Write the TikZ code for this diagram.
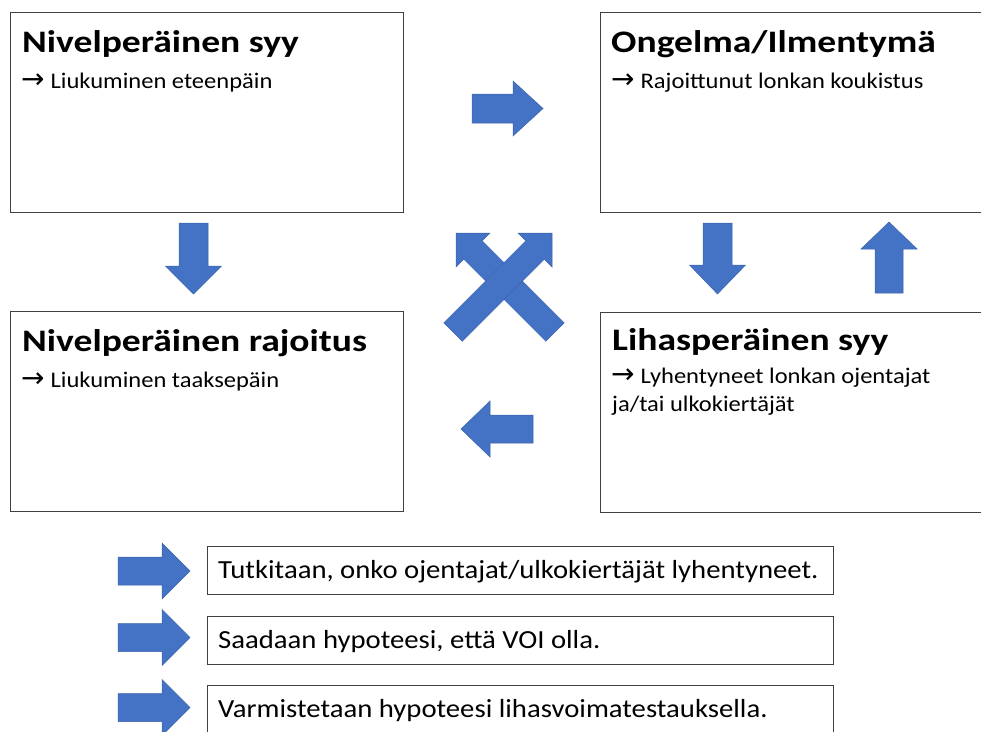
\documentclass[tikz,border=0pt]{standalone}
\usepackage{fontspec}
\setmainfont{Carlito}[FakeStretch=1.1]
\newfontfamily\titlefont{Carlito}[FakeStretch=1.2]
\newfontfamily\arrowfont{DejaVu Sans}
\usetikzlibrary{positioning}
\definecolor{arrowblue}{HTML}{4472C4}
\definecolor{arrowedge}{HTML}{3A62AC}
% block arrow: tail x, tail y, angle, length, shaft, head width, head length
\newcommand{\barrow}[7]{%
  \begin{scope}[shift={(#1,#2)},rotate=#3]
    \filldraw[arrowblue, draw=arrowedge, line width=0.5pt]
      (0,-#5/2) -- ({#4-#7},-#5/2) -- ({#4-#7},-#6/2) -- (#4,0)
      -- ({#4-#7},#6/2) -- ({#4-#7},#5/2) -- (0,#5/2) -- cycle;
  \end{scope}}
\newcommand{\ra}{{\arrowfont\fontsize{28}{28}\selectfont\char"2192}\hspace{6pt}}
\tikzset{
  bigbox/.style={draw=black!75, line width=1pt, minimum width=393pt,
    minimum height=200pt, anchor=north west, inner sep=0pt},
  stepbox/.style={draw=black!75, line width=1pt, minimum width=626pt,
    minimum height=48pt, anchor=north west, inner sep=0pt},
  boxtitle/.style={anchor=base west, inner sep=0pt,
    font=\titlefont\fontsize{31.3}{36}\selectfont\bfseries},
  boxtext/.style={anchor=base west, inner sep=0pt,
    font=\fontsize{22.3}{28}\selectfont},
  steptext/.style={anchor=base west, inner sep=0pt,
    font=\fontsize{26.1}{30}\selectfont}
}
\begin{document}
\begin{tikzpicture}[x=1pt,y=-1pt]
  \useasboundingbox (0,0) rectangle (981,731);
  \clip (0,0) rectangle (981,731);
  % the four boxes
  \node[bigbox] (nivsyy) at (10,12) {};
  \node[bigbox, minimum width=420pt] (ongelma) at (600,12) {};
  \node[bigbox] (nivraj) at (10,311) {};
  \node[bigbox, minimum width=420pt] (lihas) at (600,312) {};
  \node[boxtitle] (nivsyyT) at ([shift={(12pt,-40pt)}]nivsyy.north west) {Nivelperäinen syy};
  \node[boxtext] (nivsyyS) at ([shift={(11pt,-76pt)}]nivsyy.north west) {\ra Liukuminen eteenpäin};
  \node[boxtitle] (ongelmaT) at ([shift={(11pt,-40pt)}]ongelma.north west) {Ongelma/Ilmentymä};
  \node[boxtext] (ongelmaS) at ([shift={(11pt,-76pt)}]ongelma.north west) {\ra Rajoittunut lonkan koukistus};
  \node[boxtitle] (nivrajT) at ([shift={(12pt,-40pt)}]nivraj.north west) {Nivelperäinen rajoitus};
  \node[boxtext] (nivrajS) at ([shift={(11pt,-76pt)}]nivraj.north west) {\ra Liukuminen taaksepäin};
  \node[boxtitle] (lihasT) at ([shift={(12pt,-38pt)}]lihas.north west) {Lihasperäinen syy};
  \node[boxtext] (lihasS) at ([shift={(11pt,-71pt)}]lihas.north west) {\ra Lyhentyneet lonkan ojentajat};
  \node[boxtext] (lihasS2) at ([shift={(12pt,-99pt)}]lihas.north west) {ja/tai ulkokiertäjät};
  % arrows between the boxes
  \barrow{472}{108.5}{0}{71}{29}{55}{30}
  \barrow{193.5}{223}{-90}{71}{29}{56}{28}
  \barrow{717.5}{223}{-90}{71}{29}{56}{29}
  \barrow{889}{293}{90}{71}{28}{56}{27}
  \barrow{533}{429}{180}{72}{28}{56}{29}
  \barrow{555}{332}{135}{140}{26}{48}{24}
  \barrow{453}{332}{45}{140}{26}{48}{24}
  % steps
  \foreach \yy/\ay/\txt [count=\i] in
    {546/571/{Tutkitaan, onko ojentajat/ulkokiertäjät lyhentyneet.},
     616/637.5/{Saadaan hypoteesi, että VOI olla.},
     685/707.5/{Varmistetaan hypoteesi lihasvoimatestauksella.}}
   {
    \barrow{118}{\ay}{0}{72}{28}{56}{28}
    \node[stepbox] (step\i) at (207,\yy) {};
    \node[steptext] (step\i T) at ([shift={(11pt,-32pt)}]step\i.north west) {\txt};
   }
\end{tikzpicture}
\end{document}
